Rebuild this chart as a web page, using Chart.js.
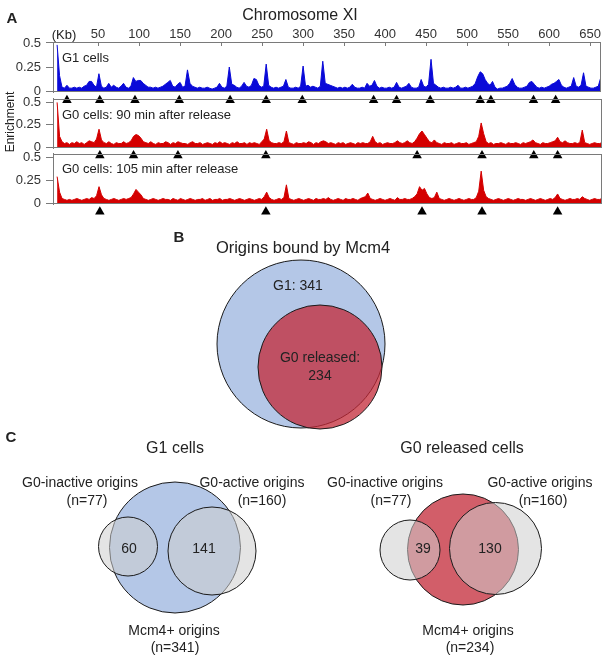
<!DOCTYPE html>
<html>
<head>
<meta charset="utf-8">
<script src="https://cdn.jsdelivr.net/npm/chart.js@4.4.0/dist/chart.umd.min.js"></script>
<style>
    body { margin: 0; background: #fff; }
    #fig { position: relative; width: 605px; height: 656px; overflow: hidden; background: #fff;
           font-family: "Liberation Sans", Arial, sans-serif; color: #222; }
    #fig canvas { position: absolute; left: 0; }
    .lbl { position: absolute; white-space: nowrap; line-height: 1; }
</style>
</head>
<body>
<div id="fig">
    <canvas id="trackG1" width="605" height="84" style="top:22px"></canvas>
    <canvas id="trackG090" width="605" height="76" style="top:86px"></canvas>
    <canvas id="trackG0105" width="605" height="77" style="top:141px"></canvas>
    <canvas id="venn" width="605" height="436" style="top:220px"></canvas>
</div>
<script>
// chromosome XI, Mcm4 enrichment in 3 kb bins starting at 0 kb
const binKb = 3;
const kbTicks = [50, 100, 150, 200, 250, 300, 350, 400, 450, 500, 550, 600, 650];
const enrichTicks = [0, 0.25, 0.5];

const g1Enrich = [
    0.48, 0.16, 0.04, 0.03, 0.06, 0.03, 0.03, 0.04, 0.03, 0.04,
    0.03, 0.05, 0.06, 0.10, 0.10, 0.06, 0.04, 0.18, 0.05, 0.03,
    0.04, 0.08, 0.04, 0.06, 0.04, 0.03, 0.05, 0.08, 0.04, 0.03,
    0.05, 0.14, 0.10, 0.11, 0.11, 0.08, 0.06, 0.04, 0.04, 0.03,
    0.04, 0.03, 0.04, 0.05, 0.07, 0.09, 0.11, 0.05, 0.04, 0.07,
    0.09, 0.04, 0.05, 0.22, 0.08, 0.05, 0.04, 0.03, 0.04, 0.03,
    0.03, 0.04, 0.03, 0.02, 0.03, 0.04, 0.08, 0.04, 0.03, 0.05,
    0.25, 0.07, 0.06, 0.04, 0.03, 0.05, 0.09, 0.05, 0.04, 0.06,
    0.13, 0.12, 0.06, 0.04, 0.05, 0.28, 0.06, 0.04, 0.03, 0.04,
    0.03, 0.04, 0.05, 0.12, 0.04, 0.03, 0.03, 0.04, 0.03, 0.05,
    0.26, 0.05, 0.06, 0.04, 0.05, 0.04, 0.03, 0.05, 0.31, 0.08,
    0.07, 0.06, 0.05, 0.04, 0.03, 0.04, 0.03, 0.04, 0.03, 0.04,
    0.07, 0.04, 0.03, 0.03, 0.04, 0.03, 0.08, 0.05, 0.06, 0.11,
    0.05, 0.03, 0.04, 0.03, 0.03, 0.04, 0.03, 0.04, 0.09, 0.04,
    0.03, 0.04, 0.05, 0.08, 0.04, 0.03, 0.03, 0.04, 0.12, 0.05,
    0.04, 0.07, 0.33, 0.08, 0.06, 0.04, 0.03, 0.04, 0.03, 0.03,
    0.04, 0.03, 0.04, 0.06, 0.03, 0.03, 0.04, 0.03, 0.04, 0.05,
    0.08, 0.15, 0.20, 0.18, 0.12, 0.08, 0.06, 0.10, 0.04, 0.02,
    0.03, 0.03, 0.04, 0.05, 0.08, 0.13, 0.07, 0.04, 0.03, 0.03,
    0.04, 0.05, 0.09, 0.10, 0.07, 0.04, 0.03, 0.04, 0.03, 0.04,
    0.05, 0.07, 0.08, 0.10, 0.12, 0.06, 0.04, 0.03, 0.04, 0.05,
    0.14, 0.05, 0.04, 0.06, 0.19, 0.05, 0.04, 0.03, 0.03, 0.04,
    0.05, 0.14, 0.14
];

const g090Enrich = [
    0.50, 0.12, 0.06, 0.04, 0.05, 0.03, 0.05, 0.04, 0.06, 0.04,
    0.05, 0.03, 0.05, 0.07, 0.06, 0.05, 0.09, 0.20, 0.08, 0.05,
    0.04, 0.06, 0.04, 0.03, 0.05, 0.04, 0.04, 0.06, 0.04, 0.05,
    0.07, 0.12, 0.14, 0.13, 0.10, 0.06, 0.05, 0.04, 0.06, 0.04,
    0.03, 0.05, 0.04, 0.04, 0.06, 0.05, 0.03, 0.05, 0.04, 0.06,
    0.05, 0.04, 0.04, 0.03, 0.05, 0.06, 0.04, 0.04, 0.05, 0.03,
    0.04, 0.05, 0.04, 0.03, 0.05, 0.04, 0.06, 0.04, 0.05, 0.04,
    0.03, 0.05, 0.04, 0.06, 0.04, 0.04, 0.05, 0.03, 0.05, 0.04,
    0.05, 0.04, 0.03, 0.06, 0.09, 0.20, 0.07, 0.05, 0.04, 0.04,
    0.05, 0.04, 0.06, 0.18, 0.05, 0.04, 0.03, 0.05, 0.04, 0.04,
    0.05, 0.04, 0.06, 0.05, 0.03, 0.05, 0.04, 0.06, 0.07, 0.06,
    0.04, 0.05, 0.04, 0.03, 0.05, 0.04, 0.05, 0.03, 0.04, 0.05,
    0.04, 0.03, 0.05, 0.04, 0.05, 0.04, 0.04, 0.06, 0.12, 0.06,
    0.04, 0.05, 0.03, 0.04, 0.05, 0.04, 0.04, 0.05, 0.07, 0.05,
    0.04, 0.05, 0.07, 0.05, 0.04, 0.06, 0.10, 0.15, 0.18, 0.14,
    0.10, 0.06, 0.05, 0.08, 0.05, 0.04, 0.03, 0.05, 0.04, 0.04,
    0.05, 0.03, 0.04, 0.05, 0.04, 0.04, 0.05, 0.03, 0.04, 0.05,
    0.06, 0.12, 0.27, 0.15, 0.06, 0.04, 0.05, 0.03, 0.04, 0.04,
    0.05, 0.04, 0.03, 0.05, 0.04, 0.04, 0.05, 0.04, 0.03, 0.05,
    0.04, 0.05, 0.06, 0.08, 0.05, 0.04, 0.03, 0.05, 0.04, 0.04,
    0.05, 0.06, 0.07, 0.11, 0.06, 0.05, 0.07, 0.05, 0.04, 0.04,
    0.05, 0.04, 0.05, 0.19, 0.05, 0.04, 0.03, 0.04, 0.05, 0.04,
    0.04, 0.05, 0.04
];

const g0105Enrich = [
    0.29, 0.12, 0.05, 0.04, 0.03, 0.04, 0.03, 0.04, 0.05, 0.04,
    0.03, 0.04, 0.05, 0.04, 0.06, 0.05, 0.08, 0.18, 0.09, 0.05,
    0.04, 0.03, 0.04, 0.05, 0.04, 0.03, 0.04, 0.05, 0.04, 0.05,
    0.06, 0.10, 0.15, 0.12, 0.09, 0.05, 0.04, 0.03, 0.04, 0.05,
    0.04, 0.03, 0.04, 0.05, 0.04, 0.04, 0.03, 0.05, 0.04, 0.03,
    0.05, 0.04, 0.03, 0.04, 0.05, 0.04, 0.03, 0.04, 0.04, 0.05,
    0.03, 0.04, 0.05, 0.03, 0.04, 0.04, 0.05, 0.03, 0.04, 0.04,
    0.05, 0.04, 0.03, 0.04, 0.05, 0.04, 0.03, 0.04, 0.05, 0.04,
    0.03, 0.04, 0.05, 0.04, 0.07, 0.12, 0.06, 0.04, 0.03, 0.04,
    0.05, 0.04, 0.06, 0.20, 0.05, 0.04, 0.03, 0.04, 0.05, 0.04,
    0.03, 0.04, 0.05, 0.04, 0.03, 0.05, 0.04, 0.04, 0.05, 0.04,
    0.06, 0.04, 0.03, 0.04, 0.05, 0.04, 0.03, 0.05, 0.04, 0.04,
    0.05, 0.04, 0.03, 0.05, 0.06, 0.07, 0.11, 0.05, 0.04, 0.03,
    0.04, 0.05, 0.04, 0.03, 0.04, 0.05, 0.04, 0.03, 0.06, 0.04,
    0.04, 0.05, 0.04, 0.04, 0.05, 0.07, 0.10, 0.18, 0.14, 0.16,
    0.10, 0.06, 0.05, 0.06, 0.12, 0.05, 0.04, 0.03, 0.04, 0.05,
    0.04, 0.03, 0.04, 0.05, 0.04, 0.03, 0.04, 0.05, 0.04, 0.04,
    0.06, 0.13, 0.35, 0.14, 0.07, 0.05, 0.04, 0.03, 0.04, 0.05,
    0.04, 0.03, 0.04, 0.05, 0.04, 0.03, 0.04, 0.05, 0.04, 0.04,
    0.03, 0.04, 0.05, 0.04, 0.03, 0.04, 0.05, 0.04, 0.03, 0.04,
    0.05, 0.04, 0.06, 0.10, 0.05, 0.04, 0.03, 0.04, 0.05, 0.04,
    0.04, 0.05, 0.04, 0.07, 0.05, 0.04, 0.03, 0.04, 0.05, 0.04,
    0.04, 0.05, 0.04
];

// origins marked with a triangle under each track (kb)
const g1Origins = [12, 52, 95, 149, 211, 255, 299, 386, 414, 455, 516, 529, 581, 608];
const g090Origins = [52, 93, 147, 254, 438, 517, 580, 609];
const g0105Origins = [52, 254, 444, 517, 609];

// venn counts
const mcm4Sets = ['G1', 'G0 released'];
const mcm4Counts = [341, 234];
const originClasses = ['G0-inactive origins', 'G0-active origins'];
const originClassCounts = [77, 160];
const g1ClassOverlap = [60, 141];
const g0ClassOverlap = [39, 130];

const family = "'Liberation Sans', Arial, sans-serif";
const fig = document.getElementById('fig');

// plain html text
const addLabel = (text, x, y, size, opts = {}) => {
    const el = document.createElement('div');
    el.className = 'lbl';
    el.textContent = text;
    el.style.left = x + 'px';
    el.style.top = y + 'px';
    el.style.fontSize = size + 'px';
    if (opts.bold) el.style.fontWeight = 'bold';
    let tf = opts.left ? 'translate(0,-50%)' : 'translate(-50%,-50%)';
    if (opts.rotate) tf += ' rotate(-90deg)';
    el.style.transform = tf;
    fig.appendChild(el);
};

// grey box round each track
const panelBox = {
    id: 'panelBox',
    afterDatasetsDraw(chart) {
        const a = chart.chartArea;
        const ctx = chart.ctx;
        ctx.save();
        ctx.strokeStyle = '#7a7a7a';
        ctx.lineWidth = 1;
        ctx.strokeRect(Math.round(a.left) + 0.5, Math.round(a.top) + 0.5,
            Math.round(a.right - a.left) - 1, Math.round(a.bottom - a.top) - 1);
        ctx.restore();
    }
};

const makeTrack = (id, values, origins, color, showKb, yMax, padTop) => {
    const points = values.map((v, i) => ({ x: i * binKb, y: v }));
    const marks = origins.map(kb => ({ x: kb, y: -0.095 }));

    return new Chart(document.getElementById(id), {
        type: 'line',
        data: {
            datasets: [{
                type: 'scatter',
                data: marks,
                pointStyle: 'triangle',
                pointRadius: 5.5,
                // big hover radius so points under the plot area still get drawn
                pointHoverRadius: 20,
                pointBackgroundColor: '#000',
                pointBorderColor: '#000',
                pointBorderWidth: 0,
                clip: false
            }, {
                data: points,
                borderColor: color,
                backgroundColor: color,
                borderWidth: 1,
                pointRadius: 0,
                pointHoverRadius: 0,
                fill: 'start',
                tension: 0
            }]
        },
        options: {
            responsive: false,
            animation: false,
            events: [],
            layout: { autoPadding: false, padding: { top: padTop, bottom: 14, left: 0, right: 3 } },
            plugins: {
                legend: { display: false },
                tooltip: { enabled: false }
            },
            scales: {
                x: {
                    type: 'linear',
                    position: 'top',
                    min: -5,
                    max: 663,
                    display: showKb,
                    afterBuildTicks: s => { s.ticks = kbTicks.map(v => ({ value: v })); },
                    afterFit: s => { s.height = showKb ? 20 : 0; },
                    grid: { drawOnChartArea: false, tickLength: -4, color: '#7a7a7a' },
                    border: { color: '#7a7a7a' },
                    ticks: {
                        padding: 4, color: '#333', maxRotation: 0, autoSkip: false,
                        font: { size: 13, family: family },
                        callback: v => String(v)
                    }
                },
                y: {
                    min: -0.01,
                    max: yMax,
                    afterBuildTicks: s => { s.ticks = enrichTicks.map(v => ({ value: v })); },
                    afterFit: s => { s.width = 53; },
                    grid: { drawOnChartArea: false, tickLength: 7, color: '#7a7a7a' },
                    border: { color: '#7a7a7a' },
                    ticks: {
                        padding: 5, color: '#333',
                        font: { size: 13, family: family },
                        callback: v => String(v)
                    }
                }
            }
        },
        plugins: [panelBox]
    });
};

makeTrack('trackG1', g1Enrich, g1Origins, '#0a0ad8', true, 0.51, 0);
makeTrack('trackG090', g090Enrich, g090Origins, '#d40000', false, 0.54, 12);
makeTrack('trackG0105', g0105Enrich, g0105Origins, '#d40000', false, 0.54, 12);

// panel A text
addLabel('A', 12, 17, 15, { bold: true });
addLabel('Chromosome XI', 300, 15, 16);
addLabel('(Kb)', 64, 34, 13);
addLabel('Enrichment', 10, 122, 12, { rotate: true });
addLabel('G1 cells', 62, 57, 13, { left: true });
addLabel('G0 cells: 90 min after release', 62, 114, 13, { left: true });
addLabel('G0 cells: 105 min after release', 62, 168, 13, { left: true });

// venn circles, page layout in pixels (scales below map 1 unit = 1 px)
const blueFill = 'rgb(180,199,231)';
const redFill = 'rgba(195,40,55,0.75)';
const greyFill = 'rgba(205,205,205,0.55)';
const vennLayout = [
    { x: 301, y: 344, r: 84, fill: blueFill },
    { x: 320, y: 367, r: 62, fill: redFill },
    { x: 175, y: 547.5, r: 65.5, fill: blueFill },
    { x: 128, y: 546.5, r: 29.5, fill: greyFill },
    { x: 212, y: 551, r: 44, fill: greyFill },
    { x: 463, y: 549.5, r: 55.5, fill: redFill },
    { x: 410, y: 550, r: 30, fill: greyFill },
    { x: 495.5, y: 548.5, r: 46, fill: greyFill }
];

new Chart(document.getElementById('venn'), {
    type: 'bubble',
    data: {
        datasets: [{
            data: vennLayout.map(c => ({ x: c.x, y: c.y, r: c.r })),
            backgroundColor: vennLayout.map(c => c.fill),
            borderColor: '#1a1a1a',
            borderWidth: 1,
            clip: false
        }]
    },
    options: {
        responsive: false,
        animation: false,
        events: [],
        layout: { autoPadding: false, padding: 0 },
        plugins: {
            legend: { display: false },
            tooltip: { enabled: false }
        },
        scales: {
            x: { type: 'linear', min: 0, max: 605, display: false },
            y: { type: 'linear', min: 220, max: 656, reverse: true, display: false }
        }
    }
});

// panel B text
addLabel('B', 179, 236, 15, { bold: true });
addLabel('Origins bound by Mcm4', 303, 247, 16.5);
addLabel(mcm4Sets[0] + ': ' + mcm4Counts[0], 298, 285, 14);
addLabel(mcm4Sets[1] + ':', 320, 357, 14);
addLabel(String(mcm4Counts[1]), 320, 375, 14);

// panel C text
addLabel('C', 11, 436, 15, { bold: true });
addLabel(mcm4Sets[0] + ' cells', 175, 448, 16);
addLabel(mcm4Sets[1] + ' cells', 462, 448, 16);

addLabel(originClasses[0], 80, 482, 14);
addLabel('(n=' + originClassCounts[0] + ')', 87, 500, 14);
addLabel(originClasses[1], 252, 482, 14);
addLabel('(n=' + originClassCounts[1] + ')', 262, 500, 14);
addLabel(String(g1ClassOverlap[0]), 129, 548, 14);
addLabel(String(g1ClassOverlap[1]), 204, 548, 14);
addLabel('Mcm4+ origins', 174, 630, 14);
addLabel('(n=' + mcm4Counts[0] + ')', 175, 647, 14);

addLabel(originClasses[0], 385, 482, 14);
addLabel('(n=' + originClassCounts[0] + ')', 391, 500, 14);
addLabel(originClasses[1], 540, 482, 14);
addLabel('(n=' + originClassCounts[1] + ')', 543, 500, 14);
addLabel(String(g0ClassOverlap[0]), 423, 548, 14);
addLabel(String(g0ClassOverlap[1]), 490, 548, 14);
addLabel('Mcm4+ origins', 468, 630, 14);
addLabel('(n=' + mcm4Counts[1] + ')', 470, 647, 14);
</script>
</body>
</html>
